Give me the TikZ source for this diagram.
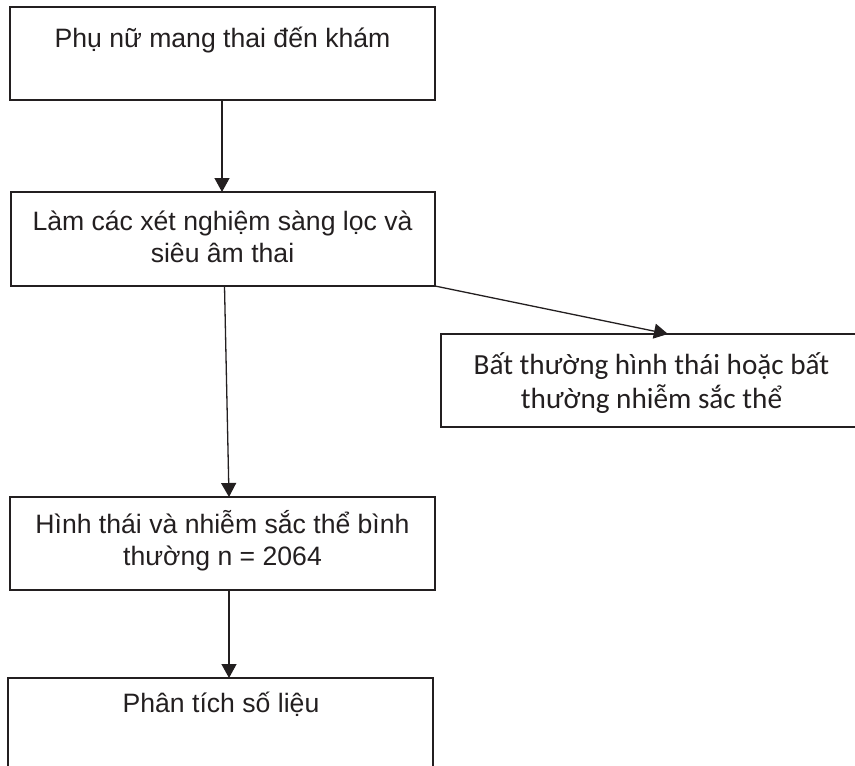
\documentclass[tikz,border=0pt]{standalone}
\usepackage{fontspec}
\setmainfont{Liberation Sans}
\newfontfamily\calib{Carlito}
\usetikzlibrary{arrows.meta}
\definecolor{ink}{RGB}{35,31,32}
\begin{document}
\begin{tikzpicture}[x=1pt,y=-1pt,
  box/.style={draw=ink, line width=2pt, rectangle, outer sep=0pt, inner sep=0pt},
  txt/.style={anchor=base, inner sep=0pt, text=ink, font=\fontsize{26.6}{31}\selectfont},
  txtc/.style={anchor=base, inner sep=0pt, text=ink, font=\calib\fontsize{29.2}{35}\selectfont},
  conn/.style={draw=ink, line width=1.3pt, -{Triangle[length=14pt,width=15pt]}}]
\useasboundingbox (0,0) rectangle (855,766);
\clip (0,0) rectangle (855,766);
% boxes
\node[box, minimum width=425, minimum height=93] (b1) at (222.5,53.5) {};
\node[box, minimum width=424, minimum height=94] (b2) at (223,239) {};
\node[box, minimum width=421, minimum height=93] (b3) at (651.5,380.5) {};
\node[box, minimum width=425, minimum height=93] (b4) at (222.5,543.5) {};
\node[box, minimum width=425, minimum height=93] (b5) at (220.5,724.5) {};
% texts
\node[txt] (t1) at (222.5,47) {Phụ nữ mang thai đến khám};
\node[txt] (t2a) at (222.5,230) {Làm các xét nghiệm sàng lọc và};
\node[txt] (t2b) at (222.5,262) {siêu âm thai};
\node[txtc] (t3a) at (651.5,374) {Bất thường hình thái hoặc bất};
\node[txtc] (t3b) at (651.5,408) {thường nhiễm sắc thể};
\node[txt] (t4a) at (222.5,533) {Hình thái và nhiễm sắc thể bình};
\node[txt] (t4b) at (222.5,565) {thường n = 2064};
\node[txt] (t5) at (221,712) {Phân tích số liệu};
% connector end points
\coordinate (s2) at (224.5,286);
\coordinate (e4) at (229,497);
\coordinate (e3) at (668,334);
\coordinate (s4) at (229,590);
\coordinate (e5) at (229,678);
% connectors
\draw[conn] (b1.south -| 222,0) -- (b2.north -| 222,0);
\draw[conn] (s2) -- (e4);
\draw[conn] (b2.south east) -- (e3);
\draw[conn] (s4) -- (e5);
\end{tikzpicture}
\end{document}
